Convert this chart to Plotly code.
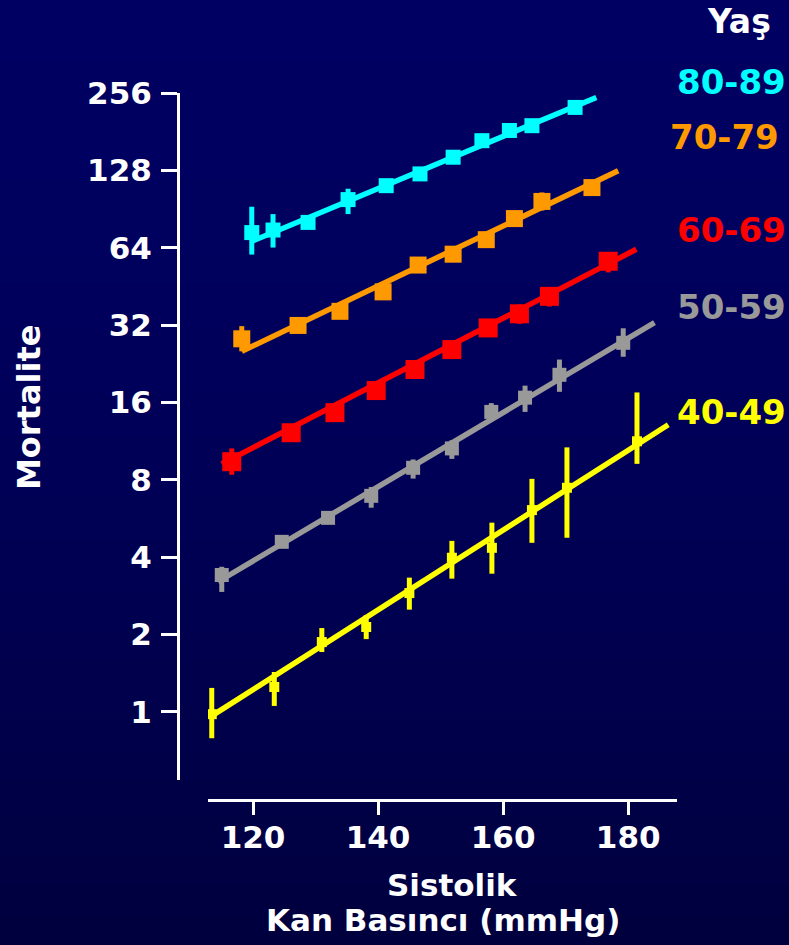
import math
import plotly.graph_objects as go

# ---------------- data ----------------
age_groups = ["80-89", "70-79", "60-69", "50-59", "40-49"]
colors = {"80-89": "#00FFFF", "70-79": "#FF9900", "60-69": "#FF0000",
          "50-59": "#999999", "40-49": "#FFFF00"}

y_tickvals = [1, 2, 4, 8, 16, 32, 64, 128, 256]
x_tickvals = [120, 140, 160, 180]

# points: systolic BP, mortality, error bar top, error bar bottom
sbp_80 = [119.8, 123.2, 128.8, 135.2, 141.3, 146.7, 152.0, 156.6, 161.0, 164.6, 171.5]
mort_80 = [73.3, 75.0, 80.3, 98.5, 111.6, 124, 144, 167, 183, 191, 225]
top_80 = [92.4, 86.5, 84.0, 108.6, 116, 129, 150, 175, 190, 198, 235]
bot_80 = [60.2, 64.1, 77.0, 86.5, 107, 119, 138, 159, 176, 184, 215]

sbp_70 = [118.2, 127.2, 133.9, 140.8, 146.4, 152.0, 157.3, 161.8, 166.2, 174.2]
mort_70 = [28.3, 31.9, 36.2, 43.1, 54.8, 60.4, 68.8, 83.1, 96.9, 109.7]
top_70 = [31.7, 33.5, 38.0, 45.2, 57.5, 63.4, 72.2, 87.2, 105, 115]
bot_70 = [25.3, 30.4, 34.5, 41.1, 52.2, 57.5, 65.5, 79.1, 89.3, 104.5]

sbp_60 = [116.6, 126.1, 133.1, 139.7, 145.9, 151.8, 157.6, 162.6, 167.4, 176.8]
mort_60 = [9.41, 12.2, 14.6, 17.8, 21.5, 25.7, 31.2, 35.4, 41.4, 56.7]
top_60 = [10.6, 12.8, 15.3, 18.6, 22.5, 26.9, 32.7, 38.5, 44.4, 61.6]
bot_60 = [8.37, 11.6, 13.9, 17.0, 20.5, 24.5, 29.8, 32.4, 37.8, 51.3]

sbp_50 = [115.0, 124.6, 132.0, 138.9, 145.6, 151.8, 158.1, 163.5, 169.0, 179.2]
mort_50 = [3.41, 4.59, 5.69, 6.93, 8.91, 10.6, 14.7, 16.7, 20.5, 27.3]
top_50 = [3.67, 4.75, 5.9, 7.5, 9.6, 11.4, 15.9, 18.6, 23.5, 31.1]
bot_50 = [2.93, 4.45, 5.5, 6.23, 8.09, 9.65, 13.6, 14.7, 17.6, 24.1]

sbp_40 = [113.4, 123.4, 131.0, 138.1, 145.0, 151.8, 158.2, 164.6, 170.2, 181.4]
mort_40 = [0.98, 1.25, 1.87, 2.14, 2.90, 3.98, 4.35, 6.1, 7.45, 11.3]
top_40 = [1.24, 1.43, 2.12, 2.38, 3.33, 4.63, 5.45, 8.07, 10.7, 17.5]
bot_40 = [0.79, 1.055, 1.71, 1.92, 2.50, 3.30, 3.45, 4.55, 4.76, 9.23]

# fitted regression lines (end points)
fit_x_80 = [119.8, 174.9]; fit_y_80 = [67.8, 246]
fit_x_70 = [118.2, 178.4]; fit_y_70 = [25.3, 127.5]
fit_x_60 = [115.0, 181.3]; fit_y_60 = [9.23, 63.1]
fit_x_50 = [114.4, 184.2]; fit_y_50 = [3.21, 32.7]
fit_x_40 = [113.4, 186.4]; fit_y_40 = [0.965, 13.1]

series = {
    "80-89": (sbp_80, mort_80, top_80, bot_80, fit_x_80, fit_y_80, 15),
    "70-79": (sbp_70, mort_70, top_70, bot_70, fit_x_70, fit_y_70, 17),
    "60-69": (sbp_60, mort_60, top_60, bot_60, fit_x_60, fit_y_60, 19),
    "50-59": (sbp_50, mort_50, top_50, bot_50, fit_x_50, fit_y_50, 14),
    "40-49": (sbp_40, mort_40, top_40, bot_40, fit_x_40, fit_y_40, 10),
}

# ---------------- figure ----------------
W, H = 789, 945
FONT = "DejaVu Sans"

def px_x(p):
    return p / W

def px_y(p):
    return 1 - p / H

fig = go.Figure()

for g in ["40-49", "50-59", "60-69", "70-79", "80-89"]:
    xs, ys, tops, bots, fx, fy, msize = series[g]
    c = colors[g]
    fig.add_trace(go.Scatter(
        x=fx, y=fy, mode="lines", line=dict(color=c, width=5.5),
        showlegend=False, hoverinfo="skip"))
    fig.add_trace(go.Scatter(
        x=xs, y=ys, mode="markers", name=g,
        marker=dict(symbol="square", size=msize, color=c, line=dict(width=0)),
        error_y=dict(type="data", symmetric=False,
                     array=[t - v for t, v in zip(tops, ys)],
                     arrayminus=[v - b for v, b in zip(ys, bots)],
                     color=c, thickness=5, width=0),
        showlegend=False))

# background gradient bands
shapes = []
n = 63
for i in range(n):
    t = (i + 0.5) / n
    b = int(round(98 - 36 * t ** 1.6))
    shapes.append(dict(type="rect", xref="paper", yref="paper",
                       x0=0, x1=1, y0=1 - (i + 1) / n - 0.002, y1=1 - i / n,
                       fillcolor=f"rgb(0,0,{b})", line=dict(width=0),
                       layer="below"))

bold = dict(family=FONT, color="white", weight="bold")

annotations = [
    dict(text="Yaş", xref="paper", yref="paper",
         x=px_x(773), y=px_y(22), xanchor="right", yanchor="middle",
         showarrow=False, font=dict(bold, size=33)),
    # y-axis title
    dict(text="Mortalite", xref="paper", yref="paper",
         x=px_x(29), y=px_y(408), xanchor="center", yanchor="middle",
         textangle=-90, showarrow=False, font=dict(bold, size=32)),
    # x-axis title
    dict(text="Sistolik", xref="paper", yref="paper",
         x=px_x(452), y=px_y(885), xanchor="center", yanchor="middle",
         showarrow=False, font=dict(bold, size=31)),
    dict(text="Kan Basıncı (mmHg)", xref="paper", yref="paper",
         x=px_x(443), y=px_y(920), xanchor="center", yanchor="middle",
         showarrow=False, font=dict(bold, size=31)),
]
label_y = {"80-89": 82, "70-79": 137, "60-69": 230, "50-59": 307, "40-49": 412}
label_x = {"80-89": 788, "70-79": 781, "60-69": 788, "50-59": 788, "40-49": 788}
for g in age_groups:
    annotations.append(dict(text=g, xref="paper", yref="paper",
                            x=px_x(label_x[g]), y=px_y(label_y[g]),
                            xanchor="right", yanchor="middle", showarrow=False,
                            font=dict(family=FONT, size=34, color=colors[g], weight="bold")))

y_lo = 2 ** -0.88
y_hi = 256

fig.update_layout(
    width=W, height=H,
    margin=dict(l=0, r=0, t=0, b=0, autoexpand=False),
    paper_bgcolor="rgb(0,0,62)",
    plot_bgcolor="rgba(0,0,0,0)",
    shapes=shapes,
    annotations=annotations,
    font=dict(family=FONT, color="white"),
    xaxis=dict(
        domain=[px_x(208), px_x(677)],
        range=[112.8, 187.8],
        anchor="free", position=px_y(800),
        tickvals=x_tickvals, ticktext=[str(v) for v in x_tickvals],
        ticks="outside", ticklen=13, tickwidth=3, tickcolor="white",
        showline=True, linewidth=3, linecolor="white",
        showgrid=False, zeroline=False, automargin=False,
        ticklabelstandoff=-4,
        tickfont=dict(bold, size=31),
    ),
    yaxis=dict(
        type="log",
        domain=[px_y(780), px_y(93)],
        range=[math.log10(y_lo), math.log10(y_hi)],
        anchor="free", position=px_x(178),
        tickvals=y_tickvals, ticktext=[str(v) for v in y_tickvals],
        ticks="outside", ticklen=16, tickwidth=3, tickcolor="white",
        showline=True, linewidth=3, linecolor="white",
        showgrid=False, zeroline=False, automargin=False,
        ticklabelstandoff=3,
        tickfont=dict(bold, size=31),
    ),
)

fig.write_html("out.html",
               config={"displayModeBar": False},
               post_script="document.body.style.margin='0';document.body.style.overflow='hidden';")
